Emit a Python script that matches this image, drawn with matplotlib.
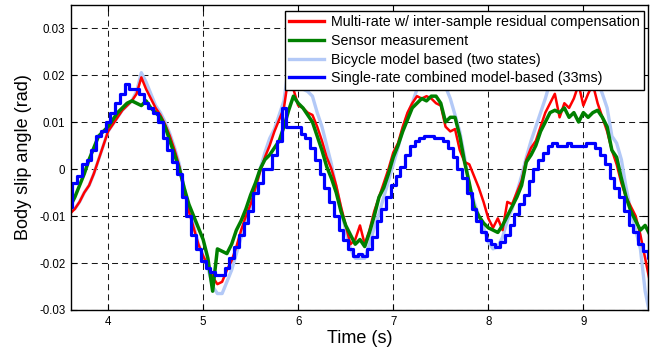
import numpy as np
import matplotlib
matplotlib.use("Agg")
import matplotlib.pyplot as plt

plt.rcParams['font.family'] = ['Liberation Sans', 'DejaVu Sans']
plt.rcParams['axes.unicode_minus'] = False
plt.rcParams['lines.scale_dashes'] = False

# time grid (s), one value every 0.05 s from 3.60 to 9.70
t = np.linspace(3.6, 9.7, 123)

# values, in 1e-3 rad
bicycle = [
    -8.5, -8.5, -7, -5, -3.5, -1, 2, 5, 8, 9.5,
    11, 12.5, 13.5, 14.5, 16.5, 20.5, 18.5, 16, 13.5, 12,
    10, 7.5, 4.5, 1, -4, -8.5, -12, -16, -18.5, -21,
    -25, -26.5, -26.5, -24, -21.5, -18, -14.5, -11, -8, -4.5,
    0, 3.5, 6.5, 8.5, 11.5, 14.5, 22, 20.5, 17.5, 17,
    16.5, 15.5, 12, 9, 5, 1, -4, -8.5, -13, -17,
    -19, -19, -19, -16, -12.5, -9.5, -6, -2.5, 1, 4.5,
    8.5, 11.5, 14, 17, 20, 22, 22, 21, 19.5, 17.5,
    15, 11.5, 8, 2.5, -3.5, -7, -10, -12.5, -15.5, -17,
    -16.5, -14.5, -11, -8.5, -5, -1.5, 2.5, 6, 9, 12,
    15, 18.5, 21, 23, 23, 23, 22.5, 22.5, 23, 22.5,
    21, 18.5, 16, 13, 7, 5.5, 2, -4, -9, -13,
    -17, -26, -31]

multirate = [
    -9.5, -8.5, -7, -5, -3.5, -1, 2, 5, 8, 9.5,
    11, 12.5, 13.5, 14.5, 16, 19.5, 17, 15, 13, 11.5,
    9.5, 7, 4, 0.5, -4.5, -9, -12.5, -16, -18.5, -20.5,
    -23, -24.5, -24, -21.5, -19.5, -16.5, -13, -10, -7.5, -4,
    -0.5, 2.5, 5, 8, 10.5, 13, 20, 17, 13.5, 13,
    12, 11.5, 9, 6, 2.5, 0, -3.5, -8, -12, -16,
    -15, -12, -16, -13, -9, -6, -3, 0, 3.5, 5.5,
    9, 12, 14, 15.5, 15, 15.5, 15, 14, 13.5, 9,
    8, 8.5, 4, 1.5, 1, -1.5, -4, -7, -10.5, -12.5,
    -10.5, -13, -7, -7.5, -5, -2.5, 2, 4.5, 6, 9,
    12, 14, 16, 11, 14, 13, 15, 18, 13.5, 16,
    18, 14, 11, 8, 4, 1, -3, -6, -8, -10,
    -14, -19, -24]

sensor = [
    -8, -6, -3.5, -1, 2, 4.5, 7, 8, 9, 10.5,
    12, 13, 14, 14.5, 14, 13.5, 14.5, 13, 12, 11,
    9, 6, 3, 0, -4, -7.5, -10, -12.5, -15, -19,
    -26, -17, -17.5, -18, -16, -13, -11, -8.5, -5.5, -3,
    0, 2, 3, 4.5, 6, 9, 12.5, 15.5, 14, 13,
    11.5, 10, 7, 4, 0.5, -2, -5, -9, -12, -14,
    -16, -15, -16.5, -13.5, -10, -6, -4, -1, 2.5, 5,
    8, 10.5, 13, 14, 15, 14.5, 15.5, 15.5, 14, 10,
    11, 11, 7, 1.5, -3, -8, -10, -11.5, -12.5, -13,
    -13.5, -12, -10, -8, -6, -3.5, 1.5, 3, 5, 8,
    10, 12, 12.5, 12, 13, 11, 12, 10, 12, 11,
    12, 12.5, 11, 9, 4, 2.5, -2, -6, -9, -11,
    -13, -12, -14]

singlerate = [
    -8, -3, -1.5, 1, 2, 4, 7, 8, 10, 12,
    14, 16, 18, 17, 17, 16, 14, 13, 12, 10,
    6.5, 4, 1.5, -1, -6, -10, -14, -17, -19.5, -21,
    -22, -22.5, -22.5, -21, -19, -16.5, -14, -11.5, -9, -5,
    -3, 0, 0, 3, 6, 13, 9, 9, 9, 7.5,
    6.5, 4.5, 2, -1, -4, -7, -10, -13, -15, -17,
    -18.5, -18, -18.5, -17, -14.5, -11, -8.5, -6, -3.5, -1.5,
    0.5, 3, 5, 6, 6.5, 7, 7, 6.5, 6.5, 6,
    4.5, 2.5, 0, -2, -5, -8.5, -11, -13.5, -15, -16,
    -16.5, -15.5, -14, -12, -9.5, -7.5, -5.5, -2.5, 0, 2,
    3.5, 5, 5.5, 5, 5, 5.5, 5, 5, 5, 5.5,
    5.5, 4.5, 3, 1, -2, -4, -6, -9, -12, -13.5,
    -16, -17.5, -19]

labels = ['Multi-rate w/ inter-sample residual compensation',
          'Sensor measurement',
          'Bicycle model based (two states)',
          'Single-rate combined model-based (33ms)']
yticks = [-0.03, -0.02, -0.01, 0, 0.01, 0.02, 0.03]
xticks = [4, 5, 6, 7, 8, 9]

fig = plt.figure(figsize=(6.62, 3.52), dpi=100)
ax = fig.add_axes([71/662, 1-310/352, 577/662, 305/352])

s = 1e-3
l_bic, = ax.plot(t, np.array(bicycle)*s, color='#b3c9f7', lw=2.4)
l_red, = ax.plot(t, np.array(multirate)*s, color='red', lw=1.8)
l_grn, = ax.plot(t, np.array(sensor)*s, color='#008000', lw=2.5)
l_blu, = ax.plot(t, np.array(singlerate)*s, color='blue', lw=2.3, drawstyle='steps-mid')

ax.set_xlim(3.61, 9.68)
ax.set_ylim(-0.03, 0.0349)
ax.set_xticks(xticks)
ax.set_yticks(yticks)
ax.set_yticklabels(['%g' % v for v in yticks])
ax.tick_params(direction='in', length=4, width=0.8, top=True, right=True,
               labelsize=8.3, pad=4)
ax.grid(True, color='#1a1a1a', lw=0.75, dashes=(4.3, 3.0))
ax.set_axisbelow(True)
for sp in ax.spines.values():
    sp.set_linewidth(1.0)

ax.set_xlabel('Time (s)', fontsize=13, labelpad=2)
ax.set_ylabel('Body slip angle (rad)', fontsize=13, labelpad=5)

leg = ax.legend([l_red, l_grn, l_bic, l_blu], labels, loc='upper right',
                bbox_to_anchor=(644/662, 1-11/352), bbox_transform=fig.transFigure,
                fontsize=10.3, handlelength=2.4, handletextpad=0.5,
                labelspacing=0.33, borderpad=0.3, borderaxespad=0,
                fancybox=False, framealpha=1, edgecolor='black')
leg.get_frame().set_linewidth(1.0)
for h in leg.legend_handles:
    h.set_linewidth(2.4)

fig.savefig('out.png', dpi=100)
